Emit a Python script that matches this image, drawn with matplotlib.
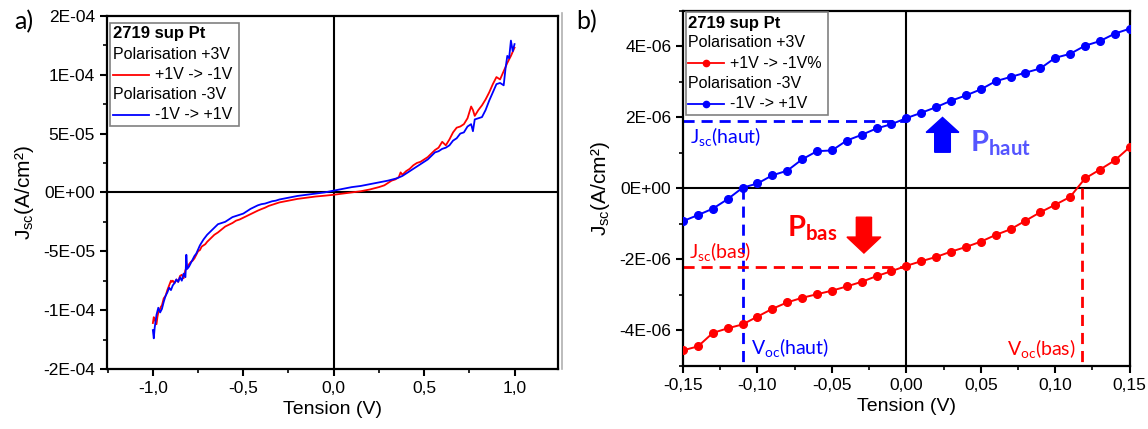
import matplotlib
matplotlib.use("Agg")
import matplotlib.pyplot as plt
from matplotlib.lines import Line2D
from matplotlib.patches import Rectangle
from matplotlib.ticker import FixedLocator, MultipleLocator

plt.rcParams['font.family'] = ['Liberation Sans', 'DejaVu Sans']
plt.rcParams['mathtext.default'] = 'regular'

# ---- panel a) : full sweep, J in units of 1E-5 A/cm2 ----
v_red = [-1.00, -0.995, -0.99, -0.98, -0.975, -0.97, -0.96, -0.955, -0.95, -0.94, -0.93,
         -0.92, -0.91, -0.90, -0.895, -0.89, -0.88, -0.87, -0.86, -0.85, -0.84, -0.83,
         -0.82, -0.81, -0.80, -0.79, -0.78, -0.77, -0.76, -0.75, -0.74, -0.73, -0.72,
         -0.71, -0.70, -0.68, -0.66, -0.64, -0.62, -0.60, -0.58, -0.56, -0.54, -0.52,
         -0.50, -0.48, -0.46, -0.44, -0.42, -0.40, -0.38, -0.36, -0.34, -0.32, -0.30,
         -0.25, -0.20, -0.15, -0.10, -0.05, 0.00, 0.05, 0.10, 0.15, 0.20, 0.25, 0.28,
         0.30, 0.32, 0.34, 0.36, 0.37, 0.38, 0.40, 0.42, 0.44, 0.46, 0.48, 0.50, 0.52,
         0.54, 0.56, 0.58, 0.60, 0.62, 0.64, 0.66, 0.68, 0.70, 0.72, 0.74, 0.76, 0.77,
         0.78, 0.80, 0.82, 0.84, 0.86, 0.88, 0.90, 0.92, 0.94, 0.96, 0.98, 1.00]
j_red = [-11.1, -10.6, -10.8, -11.2, -10.6, -10.2, -9.9, -9.7, -9.6, -9.0, -8.8,
         -8.3, -7.9, -7.5, -7.6, -7.5, -7.7, -7.4, -7.6, -7.1, -7.0, -7.3,
         -6.6, -6.4, -6.1, -5.9, -5.8, -5.6, -5.3, -5.0, -4.9, -4.6, -4.5,
         -4.4, -4.2, -3.9, -3.6, -3.4, -3.15, -2.9, -2.75, -2.6, -2.4, -2.3,
         -2.15, -2.0, -1.85, -1.7, -1.55, -1.42, -1.3, -1.15, -1.05, -0.95, -0.85,
         -0.7, -0.55, -0.45, -0.35, -0.28, -0.2, -0.1, 0.0, 0.1, 0.25, 0.45, 0.6,
         0.8, 1.0, 1.1, 1.3, 1.7, 1.5, 1.8, 2.0, 2.3, 2.5, 2.6, 2.8, 3.0,
         3.3, 3.6, 3.8, 4.3, 4.0, 4.5, 5.1, 5.5, 5.6, 5.8, 6.3, 7.3, 7.0,
         6.5, 7.0, 7.4, 7.9, 8.5, 9.2, 9.8, 9.6, 10.3, 11.0, 11.6, 12.3]

v_blue = [-1.00, -0.995, -0.99, -0.98, -0.97, -0.96, -0.95, -0.94, -0.93, -0.92, -0.91,
          -0.90, -0.89, -0.88, -0.87, -0.86, -0.85, -0.84, -0.83, -0.82, -0.815, -0.81,
          -0.80, -0.79, -0.78, -0.77, -0.76, -0.74, -0.72, -0.70, -0.68, -0.66, -0.64,
          -0.62, -0.60, -0.58, -0.56, -0.54, -0.52, -0.50, -0.48, -0.46, -0.44, -0.42,
          -0.40, -0.38, -0.36, -0.34, -0.32, -0.30, -0.25, -0.20, -0.15, -0.10, -0.05,
          0.00, 0.05, 0.10, 0.15, 0.20, 0.25, 0.30, 0.35, 0.38, 0.40, 0.42, 0.44, 0.46,
          0.48, 0.50, 0.52, 0.54, 0.56, 0.58, 0.60, 0.62, 0.64, 0.66, 0.68, 0.70, 0.72,
          0.74, 0.76, 0.77, 0.78, 0.80, 0.82, 0.84, 0.86, 0.88, 0.90, 0.92, 0.94, 0.95,
          0.96, 0.97, 0.98, 0.99, 1.00]
j_blue = [-11.7, -12.4, -11.5, -10.4, -9.8, -10.2, -9.9, -9.3, -8.8, -8.5, -8.1,
          -8.3, -7.9, -7.7, -7.4, -7.6, -7.2, -7.5, -6.9, -7.2, -5.3, -6.5,
          -6.3, -6.0, -5.7, -5.4, -5.2, -4.5, -4.0, -3.6, -3.3, -3.0, -2.7,
          -2.6, -2.5, -2.3, -2.1, -2.0, -1.9, -1.8, -1.6, -1.4, -1.25, -1.1,
          -1.0, -0.95, -0.85, -0.75, -0.7, -0.6, -0.45, -0.3, -0.2, -0.1, 0.0,
          0.15, 0.3, 0.45, 0.55, 0.7, 0.85, 1.0, 1.2, 1.4, 1.6, 1.8, 2.0, 2.2,
          2.4, 2.6, 2.8, 3.1, 3.4, 3.5, 3.7, 3.8, 4.0, 4.4, 4.6, 5.0, 5.1,
          5.6, 5.8, 5.2, 6.2, 6.3, 6.4, 7.0, 7.8, 8.5, 9.2, 9.3, 9.1, 10.5,
          11.6, 11.4, 12.9, 12.0, 12.6]

a_yticks = [-1.5e-4, -1e-4, -5e-5, 0, 5e-5, 1e-4, 1.5e-4]
a_ylabels = ["-2E-04", "-1E-04", "-5E-05", "0E+00", "5E-05", "1E-04", "2E-04"]
a_xticks = [-1.0, -0.5, 0.0, 0.5, 1.0]
a_xlabels = ["-1,0", "-0,5", "0,0", "0,5", "1,0"]

# ---- panel b) : zoom around 0 V, J in units of 1E-6 A/cm2 ----
v_zoom = [-0.15, -0.14, -0.13, -0.12, -0.11, -0.10, -0.09, -0.08, -0.07, -0.06, -0.05,
          -0.04, -0.03, -0.02, -0.01, 0.00, 0.01, 0.02, 0.03, 0.04, 0.05, 0.06,
          0.07, 0.08, 0.09, 0.10, 0.11, 0.12, 0.13, 0.14, 0.15]
j_red_zoom = [-4.56, -4.45, -4.07, -3.94, -3.83, -3.61, -3.39, -3.21, -3.08, -2.98, -2.88,
              -2.76, -2.63, -2.47, -2.33, -2.18, -2.05, -1.93, -1.78, -1.65, -1.50, -1.31,
              -1.15, -0.91, -0.67, -0.46, -0.24, 0.28, 0.53, 0.79, 1.16]
j_blue_zoom = [-0.92, -0.75, -0.57, -0.30, 0.02, 0.14, 0.37, 0.50, 0.82, 1.05, 1.07,
               1.35, 1.51, 1.69, 1.81, 1.98, 2.13, 2.29, 2.47, 2.62, 2.79, 3.02,
               3.14, 3.26, 3.38, 3.68, 3.79, 4.02, 4.15, 4.36, 4.50]

b_yticks = [-4e-6, -2e-6, 0, 2e-6, 4e-6]
b_ylabels = ["-4E-06", "-2E-06", "0E+00", "2E-06", "4E-06"]
b_xticks = [-0.15, -0.10, -0.05, 0.0, 0.05, 0.10, 0.15]
b_xlabels = ["-0,15", "-0,10", "-0,05", "0,00", "0,05", "0,10", "0,15"]

jsc_haut, jsc_bas = 1.9e-6, -2.22e-6
voc_haut, voc_bas = -0.11, 0.118

RED = '#ff0000'
BLUE = '#0000ff'

fig = plt.figure(figsize=(11.48, 4.29), dpi=100)
ax1 = fig.add_axes([0.093, 0.14, 0.393, 0.823])
ax2 = fig.add_axes([0.595, 0.147, 0.389, 0.8275])


def style_axes(ax, xticks, xlabels, yticks, ylabels, xminor, yminor):
    for s in ax.spines.values():
        s.set_linewidth(1.6)
    ax.axhline(0, color='black', lw=1.5, zorder=1)
    ax.axvline(0, color='black', lw=1.5, zorder=1)
    ax.xaxis.set_major_locator(FixedLocator(xticks))
    ax.set_xticklabels(xlabels)
    ax.yaxis.set_major_locator(FixedLocator(yticks))
    ax.set_yticklabels(ylabels)
    ax.xaxis.set_minor_locator(MultipleLocator(xminor))
    ax.yaxis.set_minor_locator(MultipleLocator(yminor))
    ax.tick_params(which='major', direction='out', length=5, width=1.5, labelsize=12.5)
    ax.tick_params(which='minor', direction='out', length=3, width=1.2)
    ax.set_xlabel('Tension (V)', fontsize=14, labelpad=4)
    ax.set_ylabel('J$_{sc}$(A/cm²)', fontsize=15, labelpad=5)


def draw_legend(ax, box, rows, line_x, text_x, marker):
    ax.add_patch(Rectangle((box[0], box[1]), box[2], box[3], transform=ax.transAxes,
                           facecolor='white', edgecolor='#808080', lw=1.2, zorder=5))
    for kind, y, label, color in rows:
        if kind == 'title':
            ax.text(line_x[0], y, label, transform=ax.transAxes, fontsize=12,
                    fontweight='bold', va='center', zorder=6)
        elif kind == 'text':
            ax.text(line_x[0], y, label, transform=ax.transAxes, fontsize=11.5,
                    va='center', zorder=6)
        else:
            ax.add_line(Line2D(line_x, [y, y], color=color, lw=1.3,
                               transform=ax.transAxes, zorder=6))
            if marker:
                ax.plot([(line_x[0] + line_x[1]) / 2], [y], 'o', color=color, ms=4.5,
                        transform=ax.transAxes, zorder=6)
            ax.text(text_x, y, label, transform=ax.transAxes, fontsize=11.5,
                    va='center', zorder=6)


# ---- panel a ----
ax1.plot(v_red, [j * 1e-5 for j in j_red], color=RED, lw=1.3, zorder=3)
ax1.plot(v_blue, [j * 1e-5 for j in j_blue], color=BLUE, lw=1.3, zorder=3)
ax1.set_xlim(-1.255, 1.24)
ax1.set_ylim(-1.5e-4, 1.5e-4)
style_axes(ax1, a_xticks, a_xlabels, a_yticks, a_ylabels, 0.25, 2.5e-5)
draw_legend(ax1, (0.008, 0.688, 0.285, 0.293),
            [('title', 0.951, '2719 sup Pt', None),
             ('text', 0.891, 'Polarisation +3V', None),
             ('line', 0.833, '+1V -> -1V', RED),
             ('text', 0.776, 'Polarisation -3V', None),
             ('line', 0.720, '-1V -> +1V', BLUE)],
            (0.0135, 0.094), 0.106, False)

# ---- panel b ----
ax2.plot(v_zoom, [j * 1e-6 for j in j_red_zoom], '-o', color=RED, lw=1.4, ms=5.5, zorder=3)
ax2.plot(v_zoom, [j * 1e-6 for j in j_blue_zoom], '-o', color=BLUE, lw=1.4, ms=5.5, zorder=3)
ax2.set_xlim(-0.15, 0.15)
ax2.set_ylim(-5e-6, 5e-6)
style_axes(ax2, b_xticks, b_xlabels, b_yticks, b_ylabels, 0.025, 1e-6)
draw_legend(ax2, (0.006, 0.706, 0.318, 0.291),
            [('title', 0.964, '2719 sup Pt', None),
             ('text', 0.910, 'Polarisation +3V', None),
             ('line', 0.852, '+1V -> -1V%', RED),
             ('text', 0.797, 'Polarisation -3V', None),
             ('line', 0.739, '-1V -> +1V', BLUE)],
            (0.010, 0.092), 0.105, True)

dash = (0, (4, 2.5))
ax2.plot([-0.15, 0.0], [jsc_haut, jsc_haut], color=BLUE, lw=2, linestyle=dash, zorder=2)
ax2.plot([voc_haut, voc_haut], [0, -5e-6], color=BLUE, lw=2, linestyle=dash, zorder=2)
ax2.plot([-0.15, 0.0], [jsc_bas, jsc_bas], color=RED, lw=2, linestyle=dash, zorder=2)
ax2.plot([voc_bas, voc_bas], [0, -5e-6], color=RED, lw=2, linestyle=dash, zorder=2)

ann = ['Lato', 'DejaVu Sans']
ax2.text(-0.1455, 1.28e-6, 'J$_{sc}$(haut)', color=BLUE, fontsize=14, family=ann)
ax2.text(-0.1460, -1.96e-6, 'J$_{sc}$(bas)', color=RED, fontsize=14, family=ann)
ax2.text(-0.1042, -4.65e-6, 'V$_{oc}$(haut)', color=BLUE, fontsize=14, family=ann)
ax2.text(0.0673, -4.70e-6, 'V$_{oc}$(bas)', color=RED, fontsize=14, family=ann)
ax2.text(0.0427, 1.03e-6, 'P$_{haut}$', color='#5555ff', fontsize=21,
         fontweight='bold', family=ann)
ax2.text(-0.0805, -1.36e-6, 'P$_{bas}$', color=RED, fontsize=21,
         fontweight='bold', family=ann)

ax2.arrow(0.0243, 1.02e-6, 0, 0.56e-6, width=0.0105, head_width=0.022,
          head_length=0.42e-6, color=BLUE, length_includes_head=False, zorder=4)
ax2.arrow(-0.0285, -0.81e-6, 0, -0.56e-6, width=0.0102, head_width=0.0228,
          head_length=0.45e-6, color=RED, length_includes_head=False, zorder=4)

# panel letters and the thin grey border left of panel b
fig.text(0.012, 0.95, 'a)', fontsize=18, va='center', family=ann)
fig.text(0.502, 0.95, 'b)', fontsize=18, va='center', family=ann)
fig.add_artist(Line2D([0.4895, 0.4895], [0.14, 0.97], color='#b0b0b0', lw=1.2,
                      transform=fig.transFigure))

fig.savefig('out.png', dpi=100)
